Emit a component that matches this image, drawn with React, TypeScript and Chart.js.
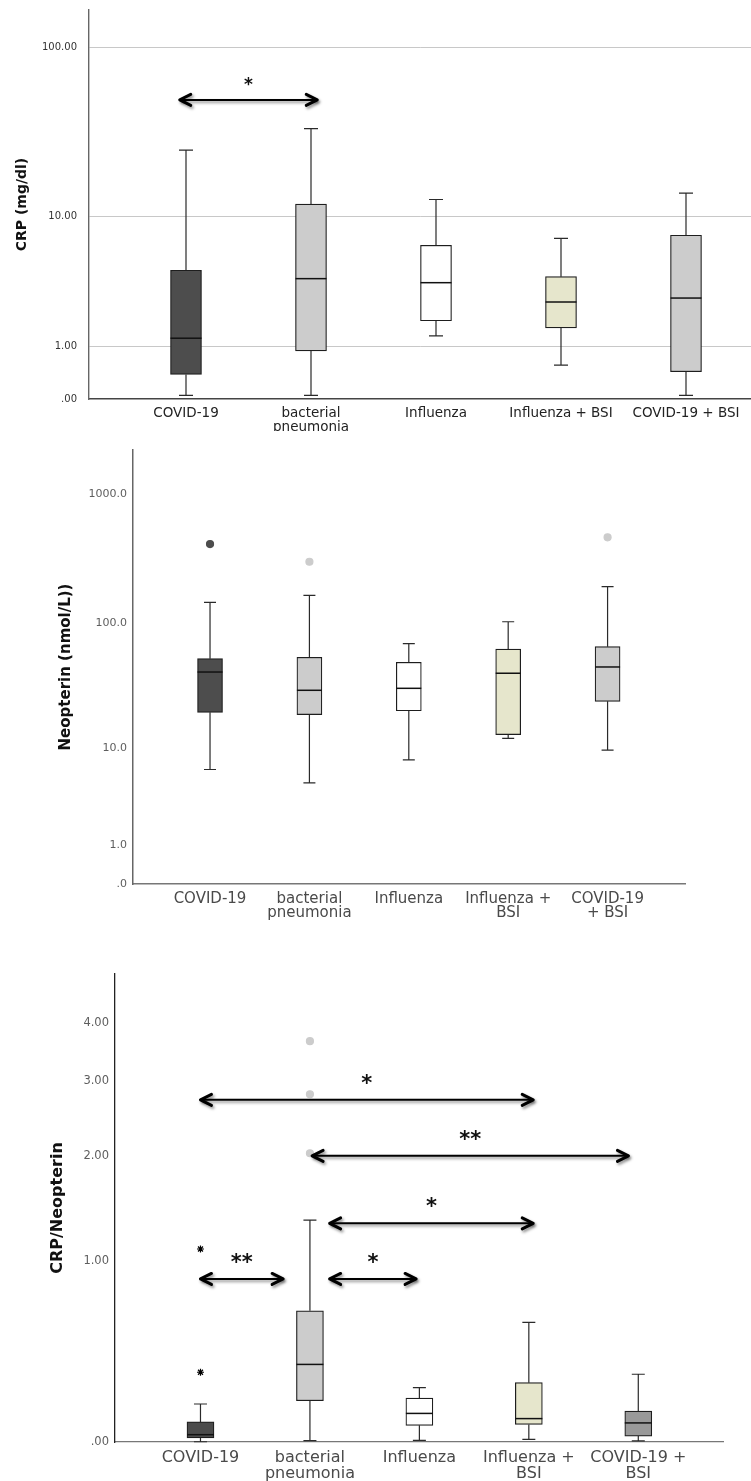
import React, { useEffect, useRef } from 'react';
import { Chart, registerables, LinearScale } from 'chart.js';

Chart.register(...registerables);

const FONT = '"DejaVu Sans", "Noto Sans", sans-serif';
const lg = (v: number) => Math.log10(Math.max(v, 0) + 1);

// y axis that is linear in log10(value + 1), as in the reference figure
class Log1pScale extends LinearScale {
  static id = 'log1p';
  configure() {
    super.configure();
    const s = this as any;
    s._startValue = lg(s.min);
    s._valueRange = lg(s.max) - lg(s.min);
  }
  getPixelForValue(value: number) {
    const s = this as any;
    return this.getPixelForDecimal((lg(value) - s._startValue) / s._valueRange);
  }
  getValueForPixel(pixel: number) {
    const s = this as any;
    return Math.pow(10, s._startValue + this.getDecimalForPixel(pixel) * s._valueRange) - 1;
  }
}
Chart.register(Log1pScale as any);

// ---------------- DATA ----------------
const crpLabels = [['COVID-19'], ['bacterial', 'pneumonia'], ['Influenza'], ['Influenza + BSI'], ['COVID-19 + BSI']];
const neoLabels = [['COVID-19'], ['bacterial', 'pneumonia'], ['Influenza'], ['Influenza +', 'BSI'], ['COVID-19', '+ BSI']];
const ratioLabels = [['COVID-19'], ['bacterial', 'pneumonia'], ['Influenza'], ['Influenza +', 'BSI'], ['COVID-19 +', 'BSI']];

const crpTicks = [0, 1, 10, 100];
const crpTickLabels = ['.00', '1.00', '10.00', '100.00'];
const crpMin = [0.05, 0.05, 1.29, 0.56, 0.05];
const crpQ1 = [0.38, 0.88, 1.79, 1.54, 0.43];
const crpMed = [1.22, 3.85, 3.6, 2.57, 2.76];
const crpQ3 = [4.41, 11.9, 6.51, 3.98, 7.57];
const crpMax = [25.2, 33.7, 12.7, 7.23, 13.9];
const crpOutGroup: number[] = [];
const crpOutValue: number[] = [];
const crpArrowFrom = [-0.05];
const crpArrowTo = [1.05];
const crpArrowY = [49.6];
const crpArrowLabel = ['*'];

const neoTicks = [0, 1, 10, 100, 1000];
const neoTickLabels = ['.0', '1.0', '10.0', '100.0', '1000.0'];
const neoMin = [6.6, 5.0, 8.0, 12.2, 9.7];
const neoQ1 = [19.9, 19.1, 20.5, 13.1, 24.4];
const neoMed = [41.7, 29.9, 31.0, 40.8, 45.7];
const neoQ3 = [53.1, 54.4, 49.7, 63.2, 65.9];
const neoMax = [145.8, 165, 69.5, 103, 192.6];
const neoOutGroup = [0, 1, 4];
const neoOutValue = [411, 300, 463];

const ratioTicks = [0, 1, 2, 3, 4];
const ratioTickLabels = ['.00', '1.00', '2.00', '3.00', '4.00'];
const ratioMin = [0.001, 0.005, 0.0065, 0.01, 0.004];
const ratioQ1 = [0.0155, 0.172, 0.066, 0.07, 0.023];
const ratioMed = [0.0285, 0.347, 0.116, 0.094, 0.076];
const ratioQ3 = [0.08, 0.655, 0.184, 0.256, 0.126];
const ratioMax = [0.157, 1.344, 0.232, 0.583, 0.297];
const ratioOutGroup = [1, 1, 1, 0, 0];
const ratioOutValue = [3.66, 2.8, 2.03, 1.098, 0.307];
const ratioArrowFrom = [0.0, 1.02, 1.18, 0.0, 1.18];
const ratioArrowTo = [3.04, 3.91, 3.04, 0.755, 1.97];
const ratioArrowY = [2.72, 2.0, 1.315, 0.87, 0.87];
const ratioArrowLabel = ['*', '**', '*', '**', '*'];

const colorsA = ['#4d4d4d', '#cccccc', '#ffffff', '#e6e6cc', '#cccccc'];
const colorsB = ['#4b4b4b', '#cccccc', '#ffffff', '#e6e6cc', '#999999'];

// ---------------- PANELS ----------------
type Cfg = any;

const panels: Cfg[] = [
  {
    top: 0, height: 431, yWidth: 89, padTop: 10, padRight: 0, xHeight: 32,
    xMin: -0.776, xMax: 4.52, yMax: 163.6,
    labels: crpLabels, yTicks: crpTicks, yTickLabels: crpTickLabels,
    min: crpMin, q1: crpQ1, med: crpMed, q3: crpQ3, max: crpMax,
    outGroup: crpOutGroup, outValue: crpOutValue, outColor: [], outStyle: [],
    arrowFrom: crpArrowFrom, arrowTo: crpArrowTo, arrowY: crpArrowY, arrowLabel: crpArrowLabel,
    colors: colorsA, boxW: 31, capW: 14,
    title: 'CRP (mg/dl)', titleSize: 14, titlePad: 14.1,
    yGrid: true, yTickSize: 10, yTickColor: '#333', yTickPad: 12,
    xSize: 13.5, xLH: 1.0, xPad: 8, xColor: '#222',
    yBorder: '#666', xBorder: '#444', borderW: 1.4,
    starSize: 17, starShift: 19,
  },
  {
    top: 432, height: 520, yWidth: 133, padTop: 18, padRight: 66, xHeight: 68,
    xMin: -0.775, xMax: 4.779, yMax: 2178,
    labels: neoLabels, yTicks: neoTicks, yTickLabels: neoTickLabels,
    min: neoMin, q1: neoQ1, med: neoMed, q3: neoQ3, max: neoMax,
    outGroup: neoOutGroup, outValue: neoOutValue,
    outColor: ['#4d4d4d', '#cccccc', '#cccccc'], outStyle: ['circle', 'circle', 'circle'],
    arrowFrom: [], arrowTo: [], arrowY: [], arrowLabel: [],
    colors: colorsA, boxW: 25, capW: 12,
    title: 'Neopterin (nmol/L))', titleSize: 15, titlePad: 56.8,
    yGrid: false, yTickSize: 11, yTickColor: '#5e5e5e', yTickPad: 6,
    xSize: 15, xLH: 0.98, xPad: 7.5, xColor: '#4a4a4a',
    yBorder: '#666', xBorder: '#777', borderW: 1.5,
    starSize: 16, starShift: 19,
  },
  {
    top: 952, height: 529, yWidth: 115, padTop: 22, padRight: 28, xHeight: 39,
    xMin: -0.781, xMax: 4.774, yMax: 5.03,
    labels: ratioLabels, yTicks: ratioTicks, yTickLabels: ratioTickLabels,
    min: ratioMin, q1: ratioQ1, med: ratioMed, q3: ratioQ3, max: ratioMax,
    outGroup: ratioOutGroup, outValue: ratioOutValue,
    outColor: ['#cccccc', '#cccccc', '#cccccc', '#000000', '#000000'],
    outStyle: ['circle', 'circle', 'circle', 'star', 'star'],
    arrowFrom: ratioArrowFrom, arrowTo: ratioArrowTo, arrowY: ratioArrowY, arrowLabel: ratioArrowLabel,
    colors: colorsB, boxW: 27, capW: 13,
    title: 'CRP/Neopterin', titleSize: 16, titlePad: 48.7,
    yGrid: false, yTickSize: 11.5, yTickColor: '#5e5e5e', yTickPad: 6,
    xSize: 16, xLH: 1.0, xPad: 7.5, xColor: '#4a4a4a',
    yBorder: '#222', xBorder: '#777', borderW: 1.3,
    starSize: 21, starShift: 22,
  },
];

function drawArrow(ctx: CanvasRenderingContext2D, x1: number, x2: number, y: number) {
  const hl = 11;
  const hh = 5.5;
  ctx.save();
  ctx.shadowColor = 'rgba(0,0,0,0.45)';
  ctx.shadowBlur = 3;
  ctx.shadowOffsetX = 1.5;
  ctx.shadowOffsetY = 2;
  ctx.strokeStyle = '#000';
  ctx.lineCap = 'round';
  ctx.lineJoin = 'round';
  ctx.lineWidth = 2;
  ctx.beginPath();
  ctx.moveTo(x1 + 1, y);
  ctx.lineTo(x2 - 1, y);
  ctx.stroke();
  ctx.lineWidth = 3;
  ctx.beginPath();
  ctx.moveTo(x1 + hl, y - hh);
  ctx.lineTo(x1, y);
  ctx.lineTo(x1 + hl, y + hh);
  ctx.stroke();
  ctx.beginPath();
  ctx.moveTo(x2 - hl, y - hh);
  ctx.lineTo(x2, y);
  ctx.lineTo(x2 - hl, y + hh);
  ctx.stroke();
  ctx.restore();
}

function BoxPanel({ cfg }: { cfg: Cfg }) {
  const ref = useRef<HTMLCanvasElement>(null);
  useEffect(() => {
    const c = cfg;
    const boxData = c.labels.map((_: any, i: number) => ({ x: i, y: [c.q1[i], c.q3[i]] }));
    const outData = c.outGroup.map((g: number, k: number) => ({ x: g, y: c.outValue[k] }));

    const boxPlugin = {
      id: 'boxparts',
      beforeDatasetsDraw(chart: any) {
        const { ctx } = chart;
        const x = chart.scales.x;
        const y = chart.scales.y;
        ctx.save();
        ctx.strokeStyle = '#2a2a2a';
        ctx.lineWidth = 1.2;
        for (let i = 0; i < c.labels.length; i++) {
          const cx = x.getPixelForValue(i);
          const yMin = y.getPixelForValue(c.min[i]);
          const yMax = y.getPixelForValue(c.max[i]);
          const yQ1 = y.getPixelForValue(c.q1[i]);
          const yQ3 = y.getPixelForValue(c.q3[i]);
          ctx.beginPath();
          ctx.moveTo(cx, yQ3);
          ctx.lineTo(cx, yMax);
          ctx.moveTo(cx, yQ1);
          ctx.lineTo(cx, yMin);
          ctx.moveTo(cx - c.capW / 2, yMax);
          ctx.lineTo(cx + c.capW / 2, yMax);
          ctx.moveTo(cx - c.capW / 2, yMin);
          ctx.lineTo(cx + c.capW / 2, yMin);
          ctx.stroke();
        }
        ctx.restore();
      },
      afterDatasetsDraw(chart: any) {
        const { ctx } = chart;
        const x = chart.scales.x;
        const y = chart.scales.y;
        ctx.save();
        ctx.strokeStyle = '#111';
        ctx.lineWidth = 1.5;
        for (let i = 0; i < c.labels.length; i++) {
          const cx = x.getPixelForValue(i);
          const ym = y.getPixelForValue(c.med[i]);
          ctx.beginPath();
          ctx.moveTo(cx - c.boxW / 2, ym);
          ctx.lineTo(cx + c.boxW / 2, ym);
          ctx.stroke();
        }
        ctx.restore();
        for (let k = 0; k < c.arrowFrom.length; k++) {
          const x1 = x.getPixelForValue(c.arrowFrom[k]);
          const x2 = x.getPixelForValue(c.arrowTo[k]);
          const py = y.getPixelForValue(c.arrowY[k]);
          drawArrow(ctx, x1, x2, py);
          ctx.save();
          ctx.fillStyle = '#111';
          ctx.font = `bold ${c.starSize}px ${FONT}`;
          ctx.textAlign = 'center';
          ctx.textBaseline = 'middle';
          ctx.fillText(c.arrowLabel[k], (x1 + x2) / 2, py - c.starShift + 0.3 * c.starSize);
          ctx.restore();
        }
      },
    };

    const chart = new Chart(ref.current as HTMLCanvasElement, {
      type: 'bar',
      data: {
        datasets: [
          {
            type: 'bar',
            data: boxData,
            backgroundColor: c.colors,
            borderColor: '#1e1e1e',
            borderWidth: 1.2,
            borderSkipped: false,
            barThickness: c.boxW,
            order: 2,
          } as any,
          {
            type: 'scatter',
            data: outData,
            pointStyle: c.outStyle,
            pointRadius: 3.5,
            pointBackgroundColor: c.outColor,
            pointBorderColor: c.outColor,
            pointBorderWidth: 1.2,
            order: 1,
          } as any,
        ],
      },
      options: {
        responsive: false,
        animation: false,
        events: [],
        layout: { padding: { top: c.padTop, right: c.padRight, left: 0, bottom: 0 } },
        plugins: { legend: { display: false }, tooltip: { enabled: false } },
        scales: {
          x: {
            type: 'linear',
            min: c.xMin,
            max: c.xMax,
            offset: false,
            bounds: 'data',
            afterBuildTicks: (s: any) => {
              s.ticks = c.labels.map((_: any, i: number) => ({ value: i }));
            },
            afterFit: (s: any) => {
              s.height = c.xHeight;
              s.paddingLeft = 0;
              s.paddingRight = 0;
            },
            grid: { display: false, drawTicks: false, offset: false },
            border: { display: true, color: c.xBorder, width: c.borderW },
            ticks: {
              autoSkip: false,
              maxRotation: 0,
              minRotation: 0,
              padding: c.xPad,
              color: c.xColor,
              font: { family: FONT, size: c.xSize, lineHeight: c.xLH },
              callback: (v: any) => c.labels[Math.round(Number(v))] ?? '',
            },
          },
          y: {
            type: 'log1p' as any,
            min: 0,
            max: c.yMax,
            bounds: 'data',
            afterBuildTicks: (s: any) => {
              s.ticks = c.yTicks.map((v: number) => ({ value: v }));
            },
            afterFit: (s: any) => {
              s.width = c.yWidth;
              s.paddingTop = 0;
              s.paddingBottom = 0;
            },
            grid: {
              display: c.yGrid,
              drawTicks: false,
              lineWidth: 1,
              color: (ctx: any) => (ctx.tick && ctx.tick.value === 0 ? 'rgba(0,0,0,0)' : '#c8c8c8'),
            },
            border: { display: true, color: c.yBorder, width: c.borderW },
            ticks: {
              autoSkip: false,
              padding: c.yTickPad,
              color: c.yTickColor,
              font: { family: FONT, size: c.yTickSize },
              callback: (_v: any, i: number) => c.yTickLabels[i],
            },
            title: {
              display: true,
              text: c.title,
              color: '#111',
              font: { family: FONT, size: c.titleSize, weight: 'bold' },
              padding: { top: c.titlePad, bottom: 0 },
            },
          } as any,
        },
      } as any,
      plugins: [boxPlugin as any],
    });
    return () => chart.destroy();
  }, [cfg]);

  return (
    <canvas
      ref={ref}
      width={751}
      height={cfg.height}
      style={{ position: 'absolute', left: 0, top: cfg.top, width: 751, height: cfg.height, display: 'block' }}
    />
  );
}

export default function App() {
  return (
    <div
      style={{
        position: 'absolute',
        left: 0,
        top: 0,
        width: 751,
        height: 1481,
        background: '#ffffff',
        overflow: 'hidden',
      }}
    >
      {panels.map((p, i) => (
        <BoxPanel key={i} cfg={p} />
      ))}
    </div>
  );
}
